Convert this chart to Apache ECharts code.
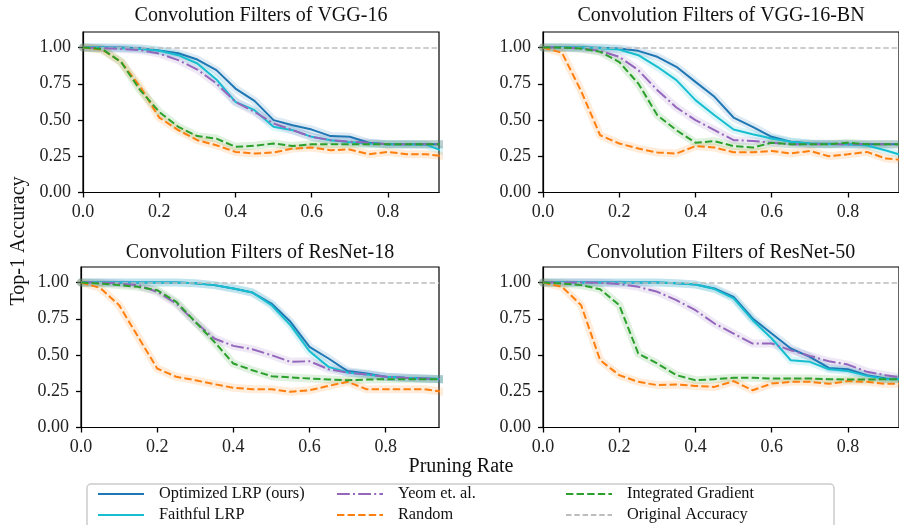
<!DOCTYPE html>
<html>
<head>
<meta charset="utf-8">
<script src="https://cdn.jsdelivr.net/npm/echarts@6/dist/echarts.min.js"></script>
<style>
  html, body { margin: 0; padding: 0; background: #fff; }
  #chart { width: 899px; height: 525px; }
</style>
</head>
<body>
<div id="chart"></div>
<script>
// ---------- data ----------
const pruningRates = [0.00,0.05,0.10,0.15,0.20,0.25,0.30,0.35,0.40,0.45,0.50,0.55,0.60,0.65,0.70,0.75,0.80,0.85,0.90,0.95];
const panelTitles = ['Convolution Filters of VGG-16','Convolution Filters of VGG-16-BN','Convolution Filters of ResNet-18','Convolution Filters of ResNet-50'];
const methodNames = ['Optimized LRP (ours)','Faithful LRP','Yeom et. al.','Random','Integrated Gradient'];
const originalName = 'Original Accuracy';
const xTickValues = [0.0,0.2,0.4,0.6,0.8];
const yTickValues = [0.00,0.25,0.50,0.75,1.00];
const originalAccuracy = [1.0,1.0,1.0,1.0];

// VGG-16
const vgg16Opt    = [1.0,1.0,1.0,0.995,0.98,0.96,0.917,0.844,0.717,0.632,0.499,0.464,0.434,0.389,0.384,0.343,0.333,0.333,0.333,0.333];
const vgg16Faith  = [1.0,1.0,0.995,0.99,0.978,0.947,0.89,0.78,0.625,0.568,0.453,0.43,0.384,0.361,0.347,0.338,0.333,0.333,0.33,0.28];
const vgg16Yeom   = [1.0,0.995,0.99,0.982,0.958,0.913,0.848,0.752,0.625,0.556,0.476,0.43,0.384,0.361,0.35,0.343,0.333,0.333,0.333,0.333];
const vgg16Random = [1.0,0.986,0.9,0.73,0.517,0.43,0.361,0.326,0.28,0.269,0.276,0.303,0.31,0.292,0.297,0.264,0.28,0.264,0.264,0.25];
const vgg16IG     = [1.0,0.99,0.9,0.706,0.556,0.453,0.389,0.372,0.315,0.322,0.338,0.32,0.333,0.333,0.333,0.333,0.333,0.333,0.333,0.333];

// VGG-16-BN
const vggbnOpt    = [1.0,1.0,1.0,0.998,0.993,0.977,0.936,0.867,0.763,0.66,0.517,0.453,0.384,0.35,0.338,0.336,0.333,0.333,0.333,0.333];
const vggbnFaith  = [1.0,1.0,1.0,0.995,0.986,0.947,0.867,0.775,0.637,0.533,0.434,0.402,0.372,0.35,0.338,0.333,0.333,0.324,0.29,0.25];
const vggbnYeom   = [1.0,1.0,0.993,0.977,0.936,0.844,0.706,0.586,0.499,0.43,0.361,0.356,0.343,0.333,0.333,0.333,0.333,0.333,0.333,0.333];
const vggbnRandom = [1.0,0.963,0.7,0.395,0.338,0.303,0.276,0.269,0.32,0.31,0.278,0.278,0.287,0.269,0.287,0.25,0.264,0.28,0.234,0.223];
const vggbnIG     = [1.0,1.0,0.993,0.97,0.9,0.752,0.533,0.43,0.343,0.354,0.32,0.31,0.343,0.333,0.333,0.333,0.343,0.333,0.333,0.333];

// ResNet-18
const res18Opt    = [1.0,1.0,1.0,1.0,1.0,1.0,0.995,0.982,0.959,0.931,0.855,0.729,0.556,0.476,0.389,0.372,0.35,0.343,0.338,0.333];
const res18Faith  = [1.0,1.0,1.0,1.0,1.0,1.0,0.995,0.982,0.959,0.931,0.844,0.706,0.526,0.418,0.379,0.366,0.35,0.343,0.338,0.333];
const res18Yeom   = [1.0,1.0,0.993,0.982,0.936,0.855,0.729,0.614,0.563,0.54,0.499,0.453,0.457,0.402,0.379,0.366,0.35,0.343,0.338,0.333];
const res18Random = [1.0,0.963,0.844,0.625,0.407,0.35,0.326,0.299,0.274,0.264,0.264,0.246,0.257,0.287,0.315,0.264,0.264,0.264,0.264,0.246];
const res18IG     = [1.0,0.993,0.982,0.97,0.947,0.867,0.729,0.591,0.441,0.395,0.354,0.345,0.338,0.331,0.326,0.331,0.333,0.333,0.333,0.333];

// ResNet-50
const res50Opt    = [1.0,1.0,1.0,1.0,1.0,1.0,1.0,0.995,0.986,0.959,0.9,0.752,0.648,0.545,0.487,0.411,0.402,0.361,0.338,0.333];
const res50Faith  = [1.0,1.0,1.0,1.0,1.0,1.0,1.0,0.995,0.986,0.955,0.89,0.74,0.614,0.464,0.453,0.402,0.389,0.356,0.333,0.333];
const res50Yeom   = [1.0,1.0,1.0,0.998,0.99,0.97,0.936,0.878,0.809,0.717,0.648,0.579,0.579,0.533,0.494,0.457,0.434,0.384,0.361,0.34];
const res50Random = [1.0,0.97,0.844,0.464,0.361,0.315,0.292,0.297,0.287,0.28,0.32,0.257,0.303,0.315,0.315,0.301,0.32,0.315,0.301,0.301];
const res50IG     = [1.0,0.993,0.982,0.954,0.844,0.51,0.441,0.361,0.326,0.333,0.343,0.343,0.338,0.338,0.338,0.333,0.331,0.331,0.333,0.333];

const panelData = [
  [vgg16Opt, vgg16Faith, vgg16Yeom, vgg16Random, vgg16IG],
  [vggbnOpt, vggbnFaith, vggbnYeom, vggbnRandom, vggbnIG],
  [res18Opt, res18Faith, res18Yeom, res18Random, res18IG],
  [res50Opt, res50Faith, res50Yeom, res50Random, res50IG]
];

// ---------- styles / layout ----------
const FONT = '"Liberation Serif", "Times New Roman", serif';
const colors = ['#1f77b4','#17becf','#9467bd','#ff7f0e','#2ca02c'];
const dashes = ['solid','solid',[12.8,3.2,2,3.2],[7.4,3.2],[7.4,3.2]];
const grayColor = '#bdbdbd';
const grids = [
  {left: 83,  top: 32,  width: 356, height: 160.5},
  {left: 543, top: 32,  width: 356, height: 160.5},
  {left: 81,  top: 267, width: 358, height: 160.5},
  {left: 543, top: 267, width: 356, height: 160.5}
];
const xMaxes = [0.934, 0.934, 0.94, 0.934];
const yMax = 1.107;

const chart = echarts.init(document.getElementById('chart'), null, {renderer: 'canvas'});

const gridOpts = grids.map(g => Object.assign({show: true, borderColor: '#000', borderWidth: 1.2, backgroundColor: 'transparent', containLabel: false}, g));

const xAxes = grids.map((g, i) => ({
  type: 'value', gridIndex: i, min: 0, max: xMaxes[i],
  axisLine: {show: true, onZero: false, lineStyle: {color: '#000', width: 1.2}},
  axisTick: {show: true, length: 5, lineStyle: {color: '#000', width: 1.3}, customValues: xTickValues},
  axisLabel: {show: true, margin: 11, fontFamily: FONT, fontSize: 18, color: '#222',
    customValues: xTickValues, formatter: v => v.toFixed(1)},
  splitLine: {show: false}
}));
const yAxes = grids.map((g, i) => ({
  type: 'value', gridIndex: i, min: 0, max: yMax,
  axisLine: {show: true, onZero: false, lineStyle: {color: '#000', width: 1.2}},
  axisTick: {show: true, length: 5, lineStyle: {color: '#000', width: 1.3}, customValues: yTickValues},
  axisLabel: {show: true, margin: 12, fontFamily: FONT, fontSize: 18, color: '#222',
    customValues: yTickValues, formatter: v => v.toFixed(2)},
  splitLine: {show: false}
}));

const series = [];
panelData.forEach((methods, p) => {
  // bands (translucent wide strokes) first
  methods.forEach((vals, m) => {
    series.push({
      name: 'band-' + m, type: 'line', xAxisIndex: p, yAxisIndex: p,
      data: pruningRates.map((x, k) => [x, vals[k]]),
      symbol: 'none', silent: true, z: 1,
      lineStyle: {color: colors[m], width: 8, opacity: 0.15, cap: 'round', join: 'round'}
    });
  });
  // original accuracy
  series.push({
    name: originalName, type: 'line', xAxisIndex: p, yAxisIndex: p, data: [],
    symbol: 'none', z: 2,
    lineStyle: {color: grayColor, width: 1.6, type: [5.5, 2.8]},
    itemStyle: {color: grayColor},
    markLine: {silent: true, symbol: ['none','none'], label: {show: false}, animation: false,
      lineStyle: {color: grayColor, width: 1.6, type: [5.5, 2.8]},
      data: [{yAxis: originalAccuracy[p]}]}
  });
  methods.forEach((vals, m) => {
    series.push({
      name: methodNames[m], type: 'line', xAxisIndex: p, yAxisIndex: p,
      data: pruningRates.map((x, k) => [x, vals[k]]),
      symbol: 'none', z: 3 + m,
      lineStyle: {color: colors[m], width: 2, type: dashes[m]},
      itemStyle: {color: colors[m]}
    });
  });
});

const titleCenters = [261, 721, 260, 721];
const titleTops = [6, 6, 243, 243];
const titles = panelTitles.map((t, i) => ({
  text: t, left: titleCenters[i], top: titleTops[i], textAlign: 'center', padding: 0,
  textStyle: {fontFamily: FONT, fontSize: 20, fontWeight: 'normal', color: '#111'}
}));

const legendCommon = {
  orient: 'vertical', top: 486, itemWidth: 46, itemHeight: 14, itemGap: 5,
  padding: 0, selectedMode: false,
  itemStyle: {opacity: 0, borderWidth: 0},
  textStyle: {fontFamily: FONT, fontSize: 16.3, color: '#111', padding: [0, 0, 0, 10]}
};
const legends = [
  Object.assign({}, legendCommon, {left: 97,  data: [methodNames[0], methodNames[1]]}),
  Object.assign({}, legendCommon, {left: 336, data: [methodNames[2], methodNames[3]]}),
  Object.assign({}, legendCommon, {left: 565, data: [methodNames[4], originalName]})
];

const option = {
  animation: false,
  backgroundColor: '#fff',
  title: titles,
  grid: gridOpts,
  xAxis: xAxes,
  yAxis: yAxes,
  legend: legends,
  series: series,
  graphic: [
    {type: 'rect', z: -1, shape: {x: 87, y: 484, width: 747, height: 60, r: 4},
      style: {fill: '#fff', stroke: '#cccccc', lineWidth: 1.5}},
    {type: 'text', x: 19, y: 241, rotation: Math.PI / 2,
      style: {text: 'Top-1 Accuracy', fontFamily: FONT, fontSize: 20, fill: '#111', textAlign: 'center', textVerticalAlign: 'middle'}},
    {type: 'text', x: 461, y: 467,
      style: {text: 'Pruning Rate', fontFamily: FONT, fontSize: 20, fill: '#111', textAlign: 'center', textVerticalAlign: 'middle'}}
  ]
};
chart.setOption(option);
</script>
</body>
</html>
